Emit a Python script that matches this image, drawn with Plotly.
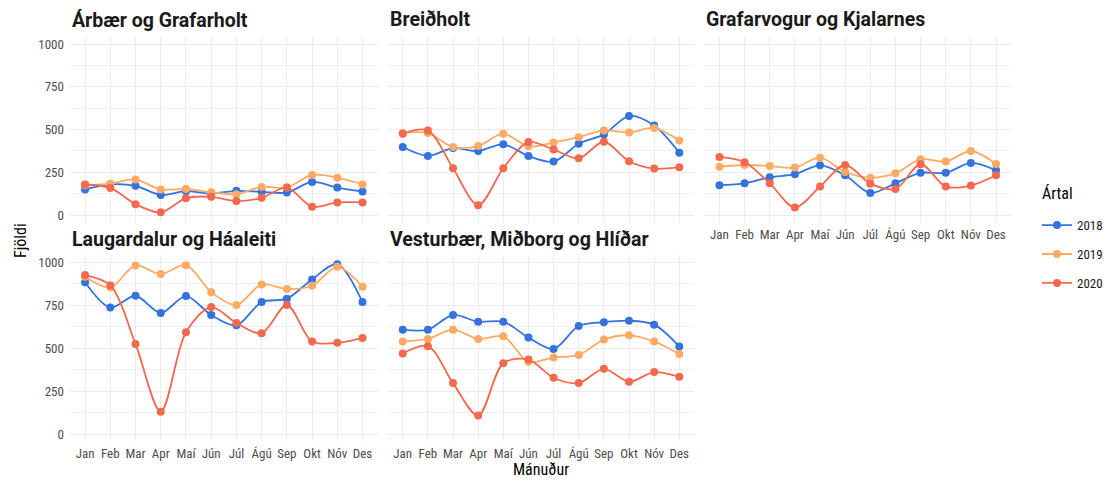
import plotly.graph_objects as go

months = ["Jan", "Feb", "Mar", "Apr", "Maí", "Jún", "Júl", "Ágú", "Sep", "Okt", "Nóv", "Des"]
years = ["2018", "2019", "2020"]
districts = ["Árbær og Grafarholt", "Breiðholt", "Grafarvogur og Kjalarnes",
             "Laugardalur og Háaleiti", "Vesturbær, Miðborg og Hlíðar"]

arbaer_2018 = [150, 180, 171, 118, 140, 126, 142, 136, 132, 194, 161, 138]
arbaer_2019 = [175, 184, 208, 150, 153, 134, 122, 165, 161, 235, 219, 179]
arbaer_2020 = [179, 159, 64, 16, 99, 107, 82, 101, 161, 49, 74, 74]

breid_2018 = [398, 346, 392, 375, 414, 346, 313, 417, 472, 579, 524, 365]
breid_2019 = [480, 480, 398, 404, 476, 402, 425, 456, 495, 483, 509, 437]
breid_2020 = [476, 495, 274, 58, 274, 427, 383, 332, 429, 315, 272, 280]

grafar_2018 = [175, 186, 221, 239, 291, 233, 130, 186, 247, 247, 305, 262]
grafar_2019 = [283, 293, 287, 278, 336, 252, 219, 245, 326, 313, 375, 299]
grafar_2020 = [340, 309, 186, 45, 167, 293, 184, 153, 297, 167, 173, 233]

laug_2018 = [884, 737, 805, 705, 803, 693, 633, 768, 788, 900, 988, 768]
laug_2019 = [915, 853, 981, 931, 983, 826, 751, 871, 844, 863, 973, 857]
laug_2020 = [925, 865, 525, 131, 593, 739, 647, 587, 751, 539, 531, 560]

vest_2018 = [608, 608, 693, 654, 654, 562, 496, 629, 651, 660, 637, 510]
vest_2019 = [539, 554, 608, 554, 569, 421, 446, 461, 550, 575, 539, 467]
vest_2020 = [469, 512, 297, 108, 413, 434, 328, 297, 380, 305, 361, 334]

data = {
    districts[0]: [arbaer_2018, arbaer_2019, arbaer_2020],
    districts[1]: [breid_2018, breid_2019, breid_2020],
    districts[2]: [grafar_2018, grafar_2019, grafar_2020],
    districts[3]: [laug_2018, laug_2019, laug_2020],
    districts[4]: [vest_2018, vest_2019, vest_2020],
}
colors = {"2018": "#3573DC", "2019": "#FDAA64", "2020": "#F4694E"}

W, H = 1108, 481
col_px = [(70, 378), (388, 695), (705, 1012)]
yr = [-40, 1040]
row_px = [(215.0, 43.3), (435.0, 262.3)]

def ydom(row):
    p0, p1000 = row_px[row]
    s = (p0 - p1000) / 1000.0
    bot = p0 - yr[0] * s
    top = p0 - yr[1] * s
    return [1 - bot / H, 1 - top / H]

cond = "Roboto Condensed, Liberation Sans Narrow, DejaVu Sans Condensed, Roboto"
tickfont = dict(family=cond, size=13, color="#4D4D4D")
fig = go.Figure()
layout = {}
for i, d in enumerate(districts):
    row, col = divmod(i, 3)
    n = i + 1
    xa = "xaxis" if n == 1 else f"xaxis{n}"
    ya = "yaxis" if n == 1 else f"yaxis{n}"
    xref = "x" if n == 1 else f"x{n}"
    yref = "y" if n == 1 else f"y{n}"
    show_x = (row == 1) or (i == 2)
    layout[xa] = dict(domain=[col_px[col][0] / W, col_px[col][1] / W], anchor=yref,
                      type="category", categoryorder="array", categoryarray=months,
                      range=[-0.6, 11.6], showgrid=True, gridcolor="#EBEBEB", gridwidth=1.2,
                      zeroline=False, showline=False, ticks="", showticklabels=show_x,
                      ticklabelstandoff=3, tickfont=tickfont, fixedrange=True)
    layout[ya] = dict(domain=ydom(row), anchor=xref, range=yr,
                      tickvals=[0, 250, 500, 750, 1000], showgrid=True, gridcolor="#EBEBEB",
                      gridwidth=1.2, minor=dict(tickvals=[125, 375, 625, 875], showgrid=True,
                                                gridcolor="#F0F0F0", gridwidth=1),
                      zeroline=False, showline=False, ticks="", showticklabels=(col == 0),
                      ticklabelstandoff=5, tickfont=tickfont, fixedrange=True)
    for y, vals in zip(years, data[d]):
        fig.add_trace(go.Scatter(x=months, y=vals, mode="lines+markers", name=y,
                                 legendgroup=y, showlegend=(i == 0),
                                 line=dict(color=colors[y], width=1.8, shape="spline", smoothing=0.9),
                                 marker=dict(color=colors[y], size=8),
                                 xaxis=xref, yaxis=yref))
    title_y = 1 - (19 if row == 0 else 239) / H
    fig.add_annotation(text=f"<b>{d}</b>", x=col_px[col][0] / W, y=title_y, xref="paper", yref="paper",
                       xanchor="left", yanchor="middle", showarrow=False,
                       font=dict(family="Roboto", size=19.5, color="#1A1A1A"))

fig.add_annotation(text="Mánuður", x=541 / W, y=1 - 470 / H, xref="paper", yref="paper",
                   xanchor="center", yanchor="middle", showarrow=False,
                   font=dict(family=cond, size=16, color="#000000"))
fig.add_annotation(text="Fjöldi", x=20 / W, y=1 - 240 / H, xref="paper", yref="paper",
                   xanchor="center", yanchor="middle", showarrow=False, textangle=-90,
                   font=dict(family=cond, size=16, color="#000000"))
fig.add_annotation(text="Ártal", x=1041 / W, y=1 - 193 / H, xref="paper", yref="paper",
                   xanchor="left", yanchor="middle", showarrow=False,
                   font=dict(family=cond, size=16, color="#000000"))

fig.update_layout(**layout)
fig.update_layout(width=W, height=H, margin=dict(l=0, r=0, t=0, b=0),
                  paper_bgcolor="white", plot_bgcolor="white",
                  legend=dict(x=1038 / W, y=1 - 210 / H, xanchor="left", yanchor="top",
                              font=dict(family=cond, size=13, color="#1A1A1A"),
                              tracegroupgap=9, bgcolor="rgba(0,0,0,0)"),
                  font=dict(family="Roboto"))
fig.write_html("out.html", config={"displayModeBar": False},
               post_script="document.body.style.margin='0';document.body.style.overflow='hidden';")
